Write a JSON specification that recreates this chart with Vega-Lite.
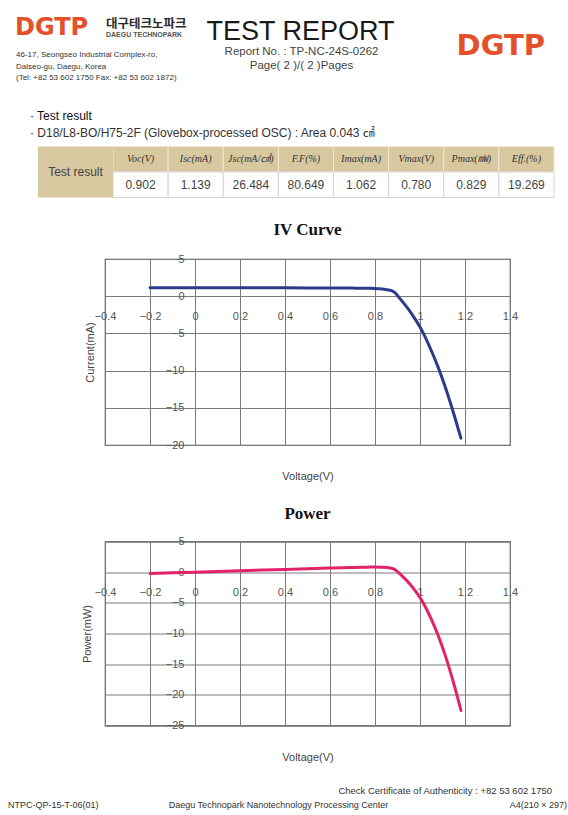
{
  "$schema": "https://vega.github.io/schema/vega-lite/v6.json",
  "background": "#ffffff",
  "padding": {"left": 8, "top": 10, "right": 0, "bottom": 0},
  "spacing": 21.5,
  "datasets": {
    "header": [
      {"role": "logo", "block": "left", "text": "DGTP"},
      {"role": "korean", "block": "left", "text": "대구테크노파크"},
      {"role": "english", "block": "left", "text": "DAEGU TECHNOPARK"},
      {"role": "address", "block": "left", "text": "46-17, Seongseo Industrial Complex-ro,\nDalseo-gu, Daegu, Korea\n(Tel: +82 53 602 1750  Fax: +82 53 602 1872)"},
      {"role": "title", "block": "center", "text": "TEST REPORT"},
      {"role": "report", "block": "center", "text": "Report No. : TP-NC-24S-0262\nPage( 2 )/( 2 )Pages"},
      {"role": "logo2", "block": "right", "text": "DGTP"}
    ],
    "table": [
      {"param": "Voc(V)", "value": 0.902},
      {"param": "Isc(mA)", "value": 1.139},
      {"param": "Jsc(mA/㎠)", "value": 26.484},
      {"param": "F.F(%)", "value": 80.649},
      {"param": "Imax(mA)", "value": 1.062},
      {"param": "Vmax(V)", "value": 0.780},
      {"param": "Pmax(㎽)", "value": 0.829},
      {"param": "Eff.(%)", "value": 19.269}
    ],
    "curve": [
      {"V": -0.2, "I": 1.150, "P": -0.230},
      {"V": -0.1, "I": 1.145, "P": -0.1145},
      {"V": 0.0, "I": 1.139, "P": 0.0},
      {"V": 0.1, "I": 1.135, "P": 0.1135},
      {"V": 0.2, "I": 1.131, "P": 0.2262},
      {"V": 0.3, "I": 1.126, "P": 0.3378},
      {"V": 0.4, "I": 1.120, "P": 0.448},
      {"V": 0.5, "I": 1.112, "P": 0.556},
      {"V": 0.6, "I": 1.102, "P": 0.6612},
      {"V": 0.7, "I": 1.087, "P": 0.7609},
      {"V": 0.75, "I": 1.075, "P": 0.806},
      {"V": 0.78, "I": 1.062, "P": 0.829},
      {"V": 0.80, "I": 1.035, "P": 0.828},
      {"V": 0.82, "I": 1.000, "P": 0.820},
      {"V": 0.84, "I": 0.945, "P": 0.794},
      {"V": 0.86, "I": 0.840, "P": 0.722},
      {"V": 0.88, "I": 0.640, "P": 0.563},
      {"V": 0.89, "I": 0.450, "P": 0.4005},
      {"V": 0.902, "I": 0.0, "P": 0.0},
      {"V": 0.92, "I": -0.65, "P": -0.598},
      {"V": 0.95, "I": -1.80, "P": -1.71},
      {"V": 0.98, "I": -3.15, "P": -3.087},
      {"V": 1.00, "I": -4.15, "P": -4.15},
      {"V": 1.02, "I": -5.30, "P": -5.406},
      {"V": 1.05, "I": -7.30, "P": -7.665},
      {"V": 1.08, "I": -9.50, "P": -10.26},
      {"V": 1.11, "I": -12.0, "P": -13.32},
      {"V": 1.14, "I": -14.8, "P": -16.872},
      {"V": 1.16, "I": -16.8, "P": -19.488},
      {"V": 1.182, "I": -19.08, "P": -22.553}
    ],
    "footer": [
      {"block": "left", "text": "NTPC-QP-15-T-06(01)"},
      {"block": "center", "text": "Daegu Technopark Nanotechnology Processing Center"},
      {"block": "right", "text": "A4(210 × 297)"}
    ]
  },
  "vconcat": [
    {
      "width": 455,
      "height": 77.5,
      "view": {"stroke": null},
      "data": {"name": "header"},
      "layer": [
        {
          "transform": [{"filter": "datum.role === 'logo'"}],
          "mark": {"type": "text", "align": "left", "baseline": "middle", "dy": -20.75, "font": "DejaVu Sans", "fontWeight": "bold", "fontSize": 24, "color": "#e5502a"},
          "encoding": {
            "x": {"field": "block", "type": "nominal", "bandPosition": 0, "scale": {"type": "band", "domain": ["left", "center", "right"], "range": [-90, 455], "paddingInner": 0, "paddingOuter": 0}, "axis": null},
            "text": {"field": "text"}
          }
        },
        {
          "transform": [{"filter": "datum.role === 'korean'"}],
          "mark": {"type": "text", "align": "left", "baseline": "middle", "dx": 91, "dy": -24.75, "font": "Noto Sans CJK KR", "fontWeight": "bold", "fontSize": 12.5, "color": "#2b2b2b"},
          "encoding": {
            "x": {"field": "block", "type": "nominal", "bandPosition": 0, "axis": null},
            "text": {"field": "text"}
          }
        },
        {
          "transform": [{"filter": "datum.role === 'english'"}],
          "mark": {"type": "text", "align": "left", "baseline": "middle", "dx": 91, "dy": -14.25, "font": "Liberation Sans", "fontWeight": "bold", "fontSize": 7, "color": "#555555"},
          "encoding": {
            "x": {"field": "block", "type": "nominal", "bandPosition": 0, "axis": null},
            "text": {"field": "text"}
          }
        },
        {
          "transform": [{"filter": "datum.role === 'address'"}],
          "mark": {"type": "text", "align": "left", "baseline": "top", "dx": 1, "dy": 2.25, "fontSize": 8, "lineHeight": 11.5, "lineBreak": "\n", "color": "#333333"},
          "encoding": {
            "x": {"field": "block", "type": "nominal", "bandPosition": 0, "axis": null},
            "text": {"field": "text"}
          }
        },
        {
          "transform": [{"filter": "datum.role === 'title'"}],
          "mark": {"type": "text", "align": "center", "baseline": "middle", "dx": 13, "dy": -17.25, "fontSize": 27, "color": "#1a1a1a"},
          "encoding": {
            "x": {"field": "block", "type": "nominal", "bandPosition": 0.5, "axis": null},
            "text": {"field": "text"}
          }
        },
        {
          "transform": [{"filter": "datum.role === 'report'"}],
          "mark": {"type": "text", "align": "center", "baseline": "top", "dx": 14, "dy": -2.5, "fontSize": 11.5, "lineHeight": 13.5, "lineBreak": "\n", "color": "#444444"},
          "encoding": {
            "x": {"field": "block", "type": "nominal", "bandPosition": 0.5, "axis": null},
            "text": {"field": "text"}
          }
        },
        {
          "transform": [{"filter": "datum.role === 'logo2'"}],
          "mark": {"type": "text", "align": "right", "baseline": "middle", "dx": -15, "dy": -3.25, "font": "DejaVu Sans", "fontWeight": "bold", "fontSize": 29, "color": "#e5502a"},
          "encoding": {
            "x": {"field": "block", "type": "nominal", "bandPosition": 1, "axis": null},
            "text": {"field": "text"}
          }
        }
      ]
    },
    {
      "width": 449,
      "height": 51,
      "view": {"stroke": null},
      "title": {
        "text": "· Test result",
        "subtitle": "\u00a0· D18/L8-BO/H75-2F (Glovebox-processed OSC) : Area 0.043 ㎠",
        "anchor": "start",
        "frame": "group",
        "dx": -75,
        "offset": 6,
        "font": "Liberation Sans, Noto Sans CJK KR",
        "fontSize": 12,
        "fontWeight": "normal",
        "color": "#111111",
        "subtitleFont": "Liberation Sans, Noto Sans CJK KR",
        "subtitleFontSize": 12,
        "subtitleColor": "#333333",
        "subtitlePadding": 5
      },
      "layer": [
        {
          "data": {"name": "table"},
          "encoding": {
            "x": {"field": "param", "type": "nominal", "sort": null, "scale": {"type": "band", "range": [8, 449], "paddingInner": 0, "paddingOuter": 0}, "axis": null}
          },
          "layer": [
            {
              "mark": {"type": "rect", "fill": "#d8c8a0", "stroke": "#efe7d3", "strokeWidth": 1},
              "encoding": {"y": {"datum": "header", "type": "nominal", "scale": {"type": "band", "domain": ["header", "value"], "paddingInner": 0, "paddingOuter": 0}, "axis": null}}
            },
            {
              "mark": {"type": "rect", "fill": "#ffffff", "stroke": "#d5d5d5", "strokeWidth": 1},
              "encoding": {"y": {"datum": "value", "type": "nominal"}}
            },
            {
              "mark": {"type": "text", "font": "Liberation Serif, Noto Sans CJK KR", "fontStyle": "italic", "fontSize": 10, "color": "#333333"},
              "encoding": {"y": {"datum": "header", "type": "nominal"}, "text": {"field": "param"}}
            },
            {
              "mark": {"type": "text", "fontSize": 12, "color": "#444444"},
              "encoding": {"y": {"datum": "value", "type": "nominal"}, "text": {"field": "value", "format": ".3f"}}
            }
          ]
        },
        {
          "data": {"values": [{"label": "Test result"}]},
          "encoding": {
            "x": {"field": "label", "type": "nominal", "scale": {"type": "band", "range": [-67, 8], "paddingInner": 0, "paddingOuter": 0}, "axis": null}
          },
          "layer": [
            {
              "mark": {"type": "rect", "fill": "#d8c8a0"},
              "encoding": {"y": {"datum": "header", "type": "nominal"}}
            },
            {
              "mark": {"type": "rect", "fill": "#d8c8a0"},
              "encoding": {"y": {"datum": "value", "type": "nominal"}}
            },
            {
              "mark": {"type": "text", "fontSize": 12, "color": "#444444", "dy": 12.75},
              "encoding": {"y": {"datum": "header", "type": "nominal"}, "text": {"field": "label"}}
            }
          ]
        }
      ],
      "resolve": {"scale": {"x": "independent"}}
    },
    {
      "width": 405,
      "height": 186,
      "title": {"text": "IV Curve", "font": "Liberation Serif", "fontSize": 17, "fontWeight": "bold", "color": "#111111", "offset": 14, "anchor": "middle"},
      "data": {"name": "curve"},
      "mark": {"type": "line", "color": "#2d3a8c", "strokeWidth": 3, "interpolate": "monotone", "strokeCap": "round"},
      "encoding": {
        "x": {
          "field": "V", "type": "quantitative",
          "scale": {"domain": [-0.4, 1.4], "nice": false, "zero": false},
          "axis": {"title": "Voltage(V)", "values": [-0.4, -0.2, 0, 0.2, 0.4, 0.6, 0.8, 1, 1.2, 1.4], "format": "~g", "offset": -148.8, "labelPadding": 14, "titleX": 202.5, "titleY": 179.8, "titleBaseline": "middle"}
        },
        "y": {
          "field": "I", "type": "quantitative",
          "scale": {"domain": [-20, 5], "nice": false},
          "axis": {"title": "Current(mA)", "values": [5, 0, -5, -10, -15, -20], "format": "~g", "offset": -90, "labelPadding": 11, "titleX": -105, "titleY": 93, "titleBaseline": "middle"}
        }
      }
    },
    {
      "width": 405,
      "height": 184,
      "title": {"text": "Power", "font": "Liberation Serif", "fontSize": 17, "fontWeight": "bold", "color": "#111111", "offset": 13, "anchor": "middle"},
      "data": {"name": "curve"},
      "mark": {"type": "line", "color": "#e2236c", "strokeWidth": 3, "interpolate": "monotone", "strokeCap": "round"},
      "encoding": {
        "x": {
          "field": "V", "type": "quantitative",
          "scale": {"domain": [-0.4, 1.4], "nice": false, "zero": false},
          "axis": {"title": "Voltage(V)", "values": [-0.4, -0.2, 0, 0.2, 0.4, 0.6, 0.8, 1, 1.2, 1.4], "format": "~g", "offset": -153.3, "labelPadding": 14, "titleX": 202.5, "titleY": 185, "titleBaseline": "middle"}
        },
        "y": {
          "field": "P", "type": "quantitative",
          "scale": {"domain": [-25, 5], "nice": false},
          "axis": {"title": "Power(mW)", "values": [5, 0, -5, -10, -15, -20, -25], "format": "~g", "offset": -90, "labelPadding": 11, "titleX": -108, "titleY": 92, "titleBaseline": "middle"}
        }
      }
    },
    {
      "width": 455,
      "height": 16,
      "view": {"stroke": null},
      "title": {"text": "Check Certificate of Authenticity : +82 53 602 1750", "anchor": "end", "frame": "group", "dx": -8, "offset": 2, "fontSize": 9.5, "fontWeight": "normal", "color": "#333333"},
      "data": {"name": "footer"},
      "layer": [
        {
          "transform": [{"filter": "datum.block === 'left'"}],
          "mark": {"type": "text", "align": "left", "baseline": "middle", "fontSize": 9, "color": "#333333"},
          "encoding": {
            "x": {"field": "block", "type": "nominal", "bandPosition": 0, "scale": {"type": "band", "domain": ["left", "center", "right"], "range": [-97, 463], "paddingInner": 0, "paddingOuter": 0}, "axis": null},
            "text": {"field": "text"}
          }
        },
        {
          "transform": [{"filter": "datum.block === 'center'"}],
          "mark": {"type": "text", "align": "center", "baseline": "middle", "dx": -9.5, "fontSize": 9, "color": "#333333"},
          "encoding": {
            "x": {"field": "block", "type": "nominal", "bandPosition": 0.5, "axis": null},
            "text": {"field": "text"}
          }
        },
        {
          "transform": [{"filter": "datum.block === 'right'"}],
          "mark": {"type": "text", "align": "right", "baseline": "middle", "dx": -1, "fontSize": 9, "color": "#333333"},
          "encoding": {
            "x": {"field": "block", "type": "nominal", "bandPosition": 1, "axis": null},
            "text": {"field": "text"}
          }
        }
      ]
    }
  ],
  "config": {
    "font": "Liberation Sans",
    "view": {"stroke": "#4d4d4d", "strokeWidth": 1.2},
    "axis": {
      "domain": false,
      "ticks": false,
      "grid": true,
      "gridColor": "#7a7a7a",
      "gridWidth": 1,
      "gridOpacity": 1,
      "labelColor": "#555555",
      "labelFont": "Liberation Sans",
      "labelFontSize": 11,
      "labelFlush": false,
      "labelOverlap": false,
      "titleFont": "Liberation Sans",
      "titleFontSize": 11,
      "titleFontWeight": "normal",
      "titleColor": "#444444"
    }
  }
}
